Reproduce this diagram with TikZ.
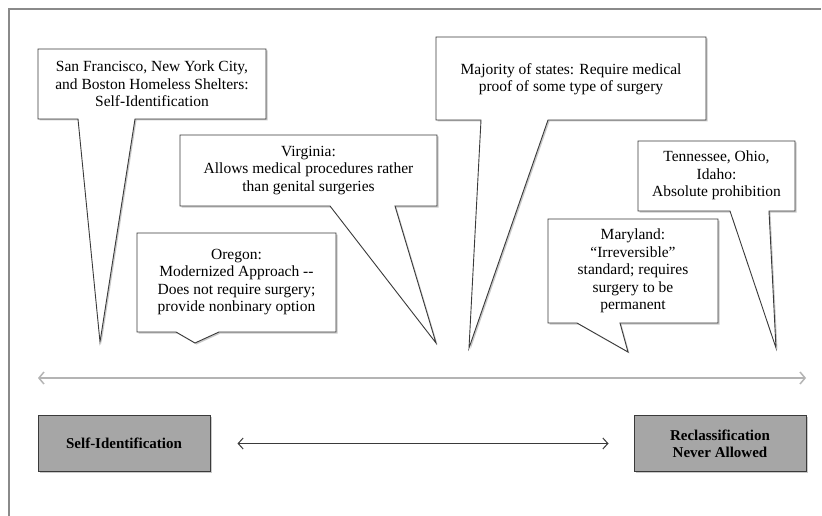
\documentclass[tikz,border=0pt]{standalone}
\usepackage{fontspec}
\setmainfont{Liberation Serif}
\usetikzlibrary{arrows.meta,shadows}
\definecolor{edge}{HTML}{3A3A3A}
\definecolor{boxgray}{HTML}{A6A6A6}
\definecolor{framegray}{HTML}{8A8A8A}
\definecolor{longgray}{HTML}{B4B4B4}
\tikzset{
  frameline/.style={draw=framegray, line width=1.3pt},
  bubble/.style={draw=edge, fill=white, line width=0.9pt, line join=miter,
    drop shadow={shadow xshift=1.5pt, shadow yshift=-1.5pt, opacity=0.35, fill=black!60}},
  txt/.style={align=center, inner sep=0pt, font=\fontsize{15.5}{17.4}\selectfont},
  endbox/.style={draw=edge, fill=boxgray, line width=1pt, minimum width=172pt, minimum height=56pt,
    align=center, inner sep=2pt, font=\bfseries\fontsize{15}{17}\selectfont,
    drop shadow={shadow xshift=1.5pt, shadow yshift=-1.5pt, opacity=0.35, fill=black!60}},
  longarrow/.style={draw=longgray, line width=1.5pt, {Straight Barb[length=5pt,width=12pt]}-{Straight Barb[length=5pt,width=12pt]}},
  midarrow/.style={draw=edge, line width=1pt, {Straight Barb[length=5pt,width=11pt]}-{Straight Barb[length=5pt,width=11pt]}}
}
\begin{document}
\begin{tikzpicture}[x=1pt,y=-1pt]
\useasboundingbox (0,0) rectangle (822,516);
\fill[white] (0,0) rectangle (822,516);
% frame
\draw[frameline] (9,516) -- (9,9) -- (821,9);

% San Francisco bubble
\path[bubble] (38,49) -- (266,49) -- (266,119) -- (135,119) -- (100,342) -- (78,119) -- (38,119) -- cycle;
\node[txt] (sf) at (152,84) {San Francisco, New York City,\\and Boston Homeless Shelters:\\Self-Identification};

% Virginia bubble
\path[bubble] (180,135) -- (437,135) -- (437,206) -- (395,206) -- (436,343) -- (330,206) -- (180,206) -- cycle;
\node[txt] (va) at (308.5,170.5) {Virginia:\\Allows medical procedures rather\\than genital surgeries};

% Oregon bubble
\path[bubble] (137,233) -- (336,233) -- (336,332) -- (219,332) -- (195,343) -- (176,332) -- (137,332) -- cycle;
\node[txt] (or) at (236.5,282) {Oregon:\\Modernized Approach -\kern0pt-\\Does not require surgery;\\provide nonbinary option};

% Majority bubble
\path[bubble] (436,37) -- (706,37) -- (706,120) -- (548,120) -- (469,348) -- (481,120) -- (436,120) -- cycle;
\node[txt] (maj) at (571,79) {Majority of states: Require medical\\proof of some type of surgery};

% Tennessee bubble
\path[bubble] (638,141) -- (795,141) -- (795,211) -- (769,211) -- (776,348) -- (730,211) -- (638,211) -- cycle;
\node[txt] (tn) at (716.5,175.5) {Tennessee, Ohio,\\Idaho:\\Absolute prohibition};

% Maryland bubble
\path[bubble] (548,219) -- (718,219) -- (718,323) -- (620,323) -- (628,352) -- (577,323) -- (548,323) -- cycle;
\node[txt] (md) at (633,271) {Maryland:\\``Irreversible''\\standard; requires\\surgery to be\\permanent};

% long spectrum arrow
\coordinate (la) at (38,378);
\coordinate (lb) at (806,378);
\draw[longarrow] (la) -- (lb);

% end boxes
\node[endbox] (selfid) at (124,443.5) {Self-Identification};
\node[endbox] (reclass) at (720,443.5) {Reclassification\\Never Allowed};
\draw[midarrow, shorten <=27pt, shorten >=25pt] (selfid) -- (reclass);
\end{tikzpicture}
\end{document}
